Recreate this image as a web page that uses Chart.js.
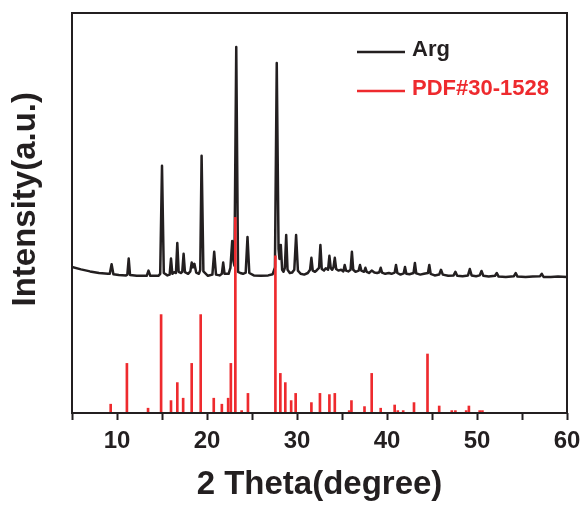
<!DOCTYPE html>
<html>
<head>
<meta charset="utf-8">
<script src="https://cdn.jsdelivr.net/npm/chart.js@4"></script>
<style>
  html, body { margin: 0; padding: 0; background: #fff; }
</style>
</head>
<body>
<canvas id="xrdChart" width="583" height="505"></canvas>
<script>
// Measured pattern (Arg), 2θ in degrees vs intensity (a.u.)
const argTheta = [
    5.0, 6.0, 7.0, 8.0, 9.0, 9.2, 9.4, 9.6, 10.2, 11.0, 11.15, 11.3, 11.45, 12.2, 13.3, 13.5, 13.7, 14.6,
    14.8, 15.0, 15.2, 15.6, 15.85, 16.0, 16.15, 16.35, 16.55, 16.7, 16.85, 17.1, 17.25, 17.4, 17.55, 17.9,
    18.15, 18.3, 18.45, 18.6, 18.8, 19.1, 19.25, 19.4, 19.6, 20.1, 20.6, 20.8, 21.0, 21.4, 21.65, 21.8,
    21.95, 22.4, 22.6, 22.8, 22.95, 23.05, 23.25, 23.45, 23.7, 24.0, 24.3, 24.5, 24.7, 25.2, 26.0, 26.8,
    27.3, 27.55, 27.75, 27.95, 28.05, 28.2, 28.35, 28.5, 28.65, 28.8, 28.95, 29.2, 29.45, 29.7, 29.9, 30.1,
    30.4, 30.8, 31.2, 31.45, 31.6, 31.75, 32.0, 32.2, 32.45, 32.6, 32.75, 33.0, 33.2, 33.45, 33.6, 33.75,
    33.9, 34.05, 34.2, 34.35, 34.6, 34.9, 35.15, 35.3, 35.45, 35.7, 35.95, 36.1, 36.25, 36.5, 36.85, 37.0,
    37.15, 37.45, 37.6, 37.75, 38.0, 38.3, 38.6, 38.9, 39.15, 39.3, 39.45, 39.8, 40.2, 40.5, 40.85, 41.0,
    41.15, 41.5, 41.85, 42.0, 42.15, 42.5, 42.95, 43.1, 43.25, 43.7, 44.1, 44.55, 44.7, 44.85, 45.3, 45.8,
    46.0, 46.2, 46.8, 47.4, 47.6, 47.8, 48.4, 49.0, 49.2, 49.4, 49.9, 50.3, 50.5, 50.7, 51.3, 52.0,
    52.2, 52.4, 53.2, 54.1, 54.3, 54.5, 55.4, 56.2, 57.0, 57.2, 57.4, 58.2, 59.0, 60.0
];
const argIntensity = [
    36.5, 35.9, 35.4, 35.0, 34.8, 34.8, 37.2, 34.7, 34.5, 34.4, 34.6, 38.6, 34.5, 34.3, 34.3, 35.6, 34.3, 34.3,
    34.8, 61.8, 35.0, 34.4, 34.6, 38.6, 34.8, 35.2, 35.0, 42.5, 35.3, 35.0, 35.3, 39.8, 35.2, 34.8,
    35.4, 37.6, 36.4, 37.3, 35.1, 34.8, 35.8, 64.3, 35.4, 34.3, 34.6, 40.3, 34.6, 34.4, 34.8, 37.6,
    34.8, 34.8, 36.3, 43.0, 37.8, 36.8, 91.5, 35.3, 35.0, 34.8, 35.1, 44.0, 35.0, 34.4, 34.3, 34.4,
    34.7, 36.4, 87.5, 41.0, 38.5, 42.0, 35.8, 35.3, 36.3, 44.5, 35.8, 35.0, 35.1, 35.8, 44.5, 35.6,
    34.8, 34.6, 35.0, 35.8, 38.8, 35.6, 35.3, 35.7, 36.3, 42.0, 36.0, 35.6, 36.2, 35.8, 39.3, 36.2,
    35.8, 36.4, 38.8, 36.0, 35.6, 35.8, 35.4, 37.0, 35.6, 35.4, 35.8, 40.3, 35.8, 35.3, 35.6, 37.0,
    35.6, 35.3, 36.3, 35.3, 35.0, 35.6, 35.1, 35.0, 35.2, 36.3, 35.1, 34.8, 35.0, 34.8, 35.1, 37.0,
    35.0, 34.6, 34.9, 36.5, 34.8, 34.7, 35.0, 37.5, 34.9, 34.6, 34.8, 35.0, 37.0, 34.8, 34.4, 34.6,
    35.8, 34.6, 34.3, 34.4, 35.3, 34.3, 34.2, 34.4, 36.0, 34.4, 34.2, 34.4, 35.5, 34.3, 34.1, 34.3,
    35.0, 34.1, 34.0, 34.2, 35.0, 34.1, 34.0, 34.1, 34.2, 34.8, 34.0, 34.0, 34.1, 34.0
];

// Reference card PDF#30-1528, stick positions and relative heights
const pdfTheta = [
    9.3, 11.1, 13.45, 14.9, 16.0, 16.7, 17.35, 18.3, 19.3, 20.75, 21.65, 22.35, 22.65, 23.15,
    23.85, 24.55, 27.6, 28.15, 28.7, 29.35, 29.85, 31.6, 32.55, 33.6, 34.2, 35.8, 36.05, 37.5,
    38.3, 39.3, 40.85, 41.2, 41.8, 43.0, 44.5, 45.8, 47.2, 47.6, 48.8, 49.1, 50.3, 50.6
];
const pdfIntensity = [
    2.2, 12.4, 1.2, 24.6, 3.1, 7.6, 3.7, 12.4, 24.6, 3.7, 2.2, 3.7, 12.4, 48.9,
    0.6, 4.9, 39.3, 9.9, 7.6, 3.1, 4.9, 2.6, 4.9, 4.6, 4.9, 0.6, 3.1, 1.6,
    9.9, 1.2, 2.0, 0.6, 0.6, 2.6, 14.75, 1.75, 0.6, 0.6, 0.6, 1.75, 0.6, 0.6
];

const xTickStep = 5;
const xLabelStep = 10;
const seriesLabels = ['Arg', 'PDF#30-1528'];

const inkColor = '#231f20';
const redColor = '#ee2a2e';
const fontFamily = "'Liberation Sans', Arial, Helvetica, sans-serif";

// frame around the plot area (top and right sides have no axis)
const frameBox = {
    id: 'frameBox',
    afterDraw(chart) {
        const {ctx, chartArea: a} = chart;
        ctx.save();
        ctx.strokeStyle = inkColor;
        ctx.lineWidth = 2;
        ctx.strokeRect(a.left, a.top, a.right - a.left, a.bottom - a.top);
        ctx.restore();
    }
};

// legend in the upper right corner: short line + coloured bold label
const insideLegend = {
    id: 'insideLegend',
    afterDraw(chart) {
        const {ctx, chartArea: a} = chart;
        const x0 = a.right - 210;
        const rows = [39, 78];
        ctx.save();
        ctx.font = `bold 22px ${fontFamily}`;
        ctx.textBaseline = 'middle';
        chart.data.datasets.forEach((ds, i) => {
            const y = a.top + rows[i];
            ctx.strokeStyle = ds.legendColor;
            ctx.lineWidth = 2.5;
            ctx.beginPath();
            ctx.moveTo(x0, y);
            ctx.lineTo(x0 + 48, y);
            ctx.stroke();
            ctx.fillStyle = ds.legendColor;
            ctx.fillText(ds.label, x0 + 55, y - 2);
        });
        ctx.restore();
    }
};

const xrdChart = new Chart(document.getElementById('xrdChart'), {
    type: 'line',
    data: {
        datasets: [{
            type: 'line',
            label: seriesLabels[0],
            legendColor: inkColor,
            data: argTheta.map((t, i) => ({x: t, y: argIntensity[i]})),
            borderColor: inkColor,
            borderWidth: 2.5,
            borderJoinStyle: 'round',
            pointRadius: 0,
            tension: 0,
            order: 1
        }, {
            type: 'bar',
            label: seriesLabels[1],
            legendColor: redColor,
            data: pdfTheta.map((t, i) => ({x: t, y: pdfIntensity[i]})),
            backgroundColor: redColor,
            borderWidth: 0,
            barThickness: 2,
            grouped: false,
            order: 0
        }]
    },
    options: {
        responsive: false,
        animation: false,
        layout: {
            padding: {top: 13, right: 16, left: 0, bottom: 0}
        },
        scales: {
            x: {
                type: 'linear',
                min: 5,
                max: 60,
                offset: false,
                grid: {
                    offset: false,
                    drawOnChartArea: false,
                    drawTicks: true,
                    tickLength: 7,
                    tickWidth: 2,
                    tickColor: inkColor
                },
                border: {display: false},
                ticks: {
                    stepSize: xTickStep,
                    padding: 7,
                    color: inkColor,
                    font: {family: fontFamily, size: 24, weight: 'bold'},
                    maxRotation: 0,
                    callback: (value) => value % xLabelStep === 0 ? value : ''
                },
                title: {
                    display: true,
                    text: '2 Theta(degree)',
                    color: inkColor,
                    font: {family: fontFamily, size: 33, weight: 'bold'},
                    padding: {top: 0, bottom: 0}
                },
                afterFit: (scale) => {
                    scale.height = 92;
                    scale.paddingLeft = 0;
                    scale.paddingRight = 0;
                }
            },
            y: {
                min: 0,
                max: 100,
                grid: {display: false},
                border: {display: false},
                ticks: {display: false},
                title: {
                    display: true,
                    text: '   Intensity(a.u.)',
                    color: inkColor,
                    font: {family: fontFamily, size: 33, weight: 'bold'},
                    padding: {top: 6, bottom: 0}
                },
                afterFit: (scale) => { scale.width = 72; }
            }
        },
        plugins: {
            legend: {display: false},
            tooltip: {enabled: false}
        }
    },
    plugins: [frameBox, insideLegend]
});
</script>
</body>
</html>
